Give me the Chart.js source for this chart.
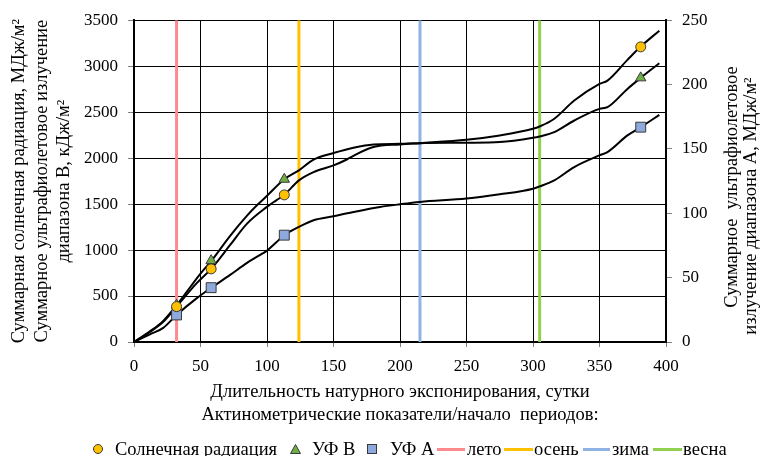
<!DOCTYPE html>
<html><head><meta charset="utf-8">
<script src="https://cdn.jsdelivr.net/npm/chart.js@4/dist/chart.umd.min.js"></script>
<style>
html,body{margin:0;padding:0;background:#fff;}
#wrap{position:relative;width:761px;height:456px;overflow:hidden;font-family:"Liberation Serif","Times New Roman",serif;color:#000;}
#c{position:absolute;left:0;top:0;}
.rot{position:absolute;white-space:pre;font-size:18.5px;line-height:20px;transform:translate(-50%,-50%) rotate(-90deg);}
.lg{position:absolute;white-space:nowrap;font-size:18.5px;line-height:20px;top:439px;}
.mk{position:absolute;box-sizing:border-box;}
.mk svg{display:block;}
</style>
</head><body>
<div id="wrap">
<canvas id="c" width="761" height="456"></canvas>
</div>
<script>
// ---- data ----
const solarDays = [0, 12, 22, 32, 47, 58, 72, 85, 100, 107, 113, 124, 135, 150, 160, 165, 180, 200, 215, 250, 275, 300, 305, 316, 331, 350, 356, 371, 381, 395];
const solarVals = [0, 110, 220, 385, 637, 795, 1050, 1288, 1470, 1541, 1600, 1758, 1848, 1921, 1985, 2025, 2120, 2149, 2163, 2200, 2247, 2319, 2344, 2428, 2626, 2807, 2843, 3068, 3213, 3386];

const uvbDays = [0, 12, 22, 32, 50, 58, 72, 85, 93, 100, 113, 124, 135, 150, 165, 180, 200, 215, 250, 275, 300, 305, 316, 331, 350, 356, 371, 381, 395];
const uvbVals = [0, 115, 230, 400, 745, 880, 1150, 1375, 1495, 1590, 1770, 1867, 1983, 2055, 2113, 2149, 2156, 2163, 2167, 2174, 2221, 2236, 2282, 2409, 2536, 2554, 2753, 2873, 3032];

const uvaDays = [0, 12, 22, 32, 47, 58, 72, 85, 97, 100, 107, 113, 124, 135, 150, 165, 185, 200, 215, 250, 275, 300, 305, 316, 331, 350, 356, 371, 381, 395];
const uvaVals = [0, 6, 11, 21, 33.9, 42.1, 51.9, 61.5, 69, 71, 77.5, 83, 89.4, 94.6, 97.7, 101, 104.9, 107, 108.8, 111.4, 114.7, 119.1, 120.9, 125.6, 135.9, 145, 147.5, 160.5, 166.9, 176.5];

const markerDays = [32, 58, 113, 381];
const solarMarks = [385, 795, 1600, 3210];
const uvbMarks = [400, 885, 1770, 2873];
const uvaMarks = [21, 42.2, 83, 166.9];

const seasonDays = [32, 124, 215, 305];
const seasonNames = ['лето', 'осень', 'зима', 'весна'];

const xTicks = [0, 50, 100, 150, 200, 250, 300, 350, 400];
const yLeftTicks = [0, 500, 1000, 1500, 2000, 2500, 3000, 3500];
const yRightTicks = [0, 50, 100, 150, 200, 250];

const seriesNames = ['Солнечная радиация', 'УФ В', 'УФ А'];
const xTitle = ['Длительность натурного экспонирования, сутки', 'Актинометрические показатели/начало  периодов:'];
const yLeftTitle = ['Суммарная солнечная радиация, МДж/м²', 'Суммарное ультрафиолетовое излучение', 'диапазона В, кДж/м²'];
const yRightTitle = ['Суммарное  ультрафиолетовое', 'излучение диапазона А, МДж/м²'];

// ---- styles ----
const seasonColors = ['#FF8A8E', '#FFC000', '#8FB4E3', '#92D050'];
const markColors = ['#FFC000', '#70AD47', '#8EA9DB'];
const FONT = 'Liberation Serif';
const TITLE_SIZE = 18.5;

const pts = (xs, ys) => xs.map((x, i) => ({x, y: ys[i]}));

const datasets = [];
datasets.push({label: seriesNames[0], data: pts(markerDays, solarMarks), yAxisID: 'y', showLine: false,
  pointStyle: 'circle', pointRadius: 5, backgroundColor: markColors[0], borderColor: '#3a3a3a', borderWidth: 1, order: 0});
datasets.push({label: seriesNames[1], data: pts(markerDays, uvbMarks), yAxisID: 'y', showLine: false,
  pointStyle: 'triangle', pointRadius: 6, backgroundColor: markColors[1], borderColor: '#3a3a3a', borderWidth: 1, order: 0});
datasets.push({label: seriesNames[2], data: pts(markerDays, uvaMarks), yAxisID: 'y2', showLine: false,
  pointStyle: 'rect', pointRadius: 7, backgroundColor: markColors[2], borderColor: '#3a3a3a', borderWidth: 1, order: 0});
datasets.push({label: 'curve-solar', data: pts(solarDays, solarVals), yAxisID: 'y', showLine: true, borderColor: '#000', borderWidth: 2, pointRadius: 0, cubicInterpolationMode: 'monotone', order: 1});
datasets.push({label: 'curve-uvb', data: pts(uvbDays, uvbVals), yAxisID: 'y', showLine: true, borderColor: '#000', borderWidth: 2, pointRadius: 0, cubicInterpolationMode: 'monotone', order: 1});
datasets.push({label: 'curve-uva', data: pts(uvaDays, uvaVals), yAxisID: 'y2', showLine: true, borderColor: '#000', borderWidth: 2, pointRadius: 0, cubicInterpolationMode: 'monotone', order: 1});
seasonDays.forEach((d, i) => {
  datasets.push({label: seasonNames[i], data: [{x: d, y: yLeftTicks[0]}, {x: d, y: yLeftTicks[yLeftTicks.length - 1]}], yAxisID: 'y',
    showLine: true, borderColor: seasonColors[i], borderWidth: 3, pointRadius: 0, order: 2});
});

const plain = v => String(v);

new Chart(document.getElementById('c'), {
  type: 'scatter',
  data: {datasets},
  options: {
    responsive: false, animation: false,
    layout: {padding: {top: 19, left: 0, right: 0, bottom: 0}, autoPadding: false},
    plugins: {legend: {display: false}, tooltip: {enabled: false}},
    scales: {
      x: {
        type: 'linear', min: xTicks[0], max: xTicks[xTicks.length - 1],
        afterBuildTicks: s => { s.ticks = xTicks.map(v => ({value: v})); },
        afterFit: s => { s.height = 114; },
        ticks: {color: '#000', font: {family: FONT, size: 17}, padding: 9, maxRotation: 0, callback: plain},
        grid: {color: '#000', lineWidth: 1, tickLength: 5, tickColor: '#808080'},
        border: {color: '#000', width: 2},
        title: {display: true, text: xTitle, color: '#000', font: {family: FONT, size: TITLE_SIZE, lineHeight: 1.25}, padding: {top: 0, bottom: 29}}
      },
      y: {
        type: 'linear', position: 'left', min: yLeftTicks[0], max: yLeftTicks[yLeftTicks.length - 1],
        afterBuildTicks: s => { s.ticks = yLeftTicks.map(v => ({value: v})); },
        afterFit: s => { s.width = 134; },
        ticks: {color: '#000', font: {family: FONT, size: 17}, padding: 10, callback: plain},
        grid: {color: '#000', lineWidth: 1, tickLength: 6, tickColor: '#808080'},
        border: {color: '#000', width: 2},
        title: {display: true, text: yLeftTitle, color: '#000', font: {family: FONT, size: TITLE_SIZE, lineHeight: 1.22}, padding: {top: 8, bottom: 0}}
      },
      y2: {
        type: 'linear', position: 'right', min: yRightTicks[0], max: yRightTicks[yRightTicks.length - 1],
        afterBuildTicks: s => { s.ticks = yRightTicks.map(v => ({value: v})); },
        afterFit: s => { s.width = 95; },
        ticks: {color: '#000', font: {family: FONT, size: 17}, padding: 10, callback: plain},
        grid: {drawOnChartArea: false, tickLength: 6, tickColor: '#808080', color: '#808080'},
        border: {color: '#000', width: 2}
      }
    }
  }
});

const wrap = document.getElementById('wrap');
const rtPos = [[731, 187], [750, 206]];
yRightTitle.forEach((t, i) => {
  const d = document.createElement('div');
  d.className = 'rot'; d.textContent = t;
  d.style.left = rtPos[i][0] + 'px'; d.style.top = rtPos[i][1] + 'px';
  wrap.appendChild(d);
});

function addText(t, x) { const s = document.createElement('span'); s.className = 'lg'; s.textContent = t; s.style.left = x + 'px'; wrap.appendChild(s); }
function addBox(x, y, w, h, css) { const d = document.createElement('div'); d.className = 'mk'; d.style.left = x + 'px'; d.style.top = y + 'px'; d.style.width = w + 'px'; d.style.height = h + 'px'; Object.assign(d.style, css); wrap.appendChild(d); return d; }
const LY = 449;
addBox(93, LY - 5, 10, 10, {borderRadius: '50%', background: markColors[0], border: '1px solid #3a3a3a'});
addText(seriesNames[0], 115);
const tri = addBox(290, LY - 5, 11, 10, {});
tri.innerHTML = '<svg width="11" height="10"><polygon points="5.5,0.5 10.5,9.5 0.5,9.5" fill="' + markColors[1] + '" stroke="#3a3a3a" stroke-width="1"/></svg>';
addText(seriesNames[1], 312);
addBox(367, LY - 5, 10, 10, {background: markColors[2], border: '1px solid #3a3a3a'});
addText(seriesNames[2], 390);
const lineX = [437, 504, 583, 653];
const lineW = [28, 29, 27, 29];
const textX = [467, 534, 612, 683];
seasonNames.forEach((n, i) => {
  addBox(lineX[i], LY - 1.5, lineW[i], 3, {background: seasonColors[i]});
  addText(n, textX[i]);
});
</script>
</body></html>
